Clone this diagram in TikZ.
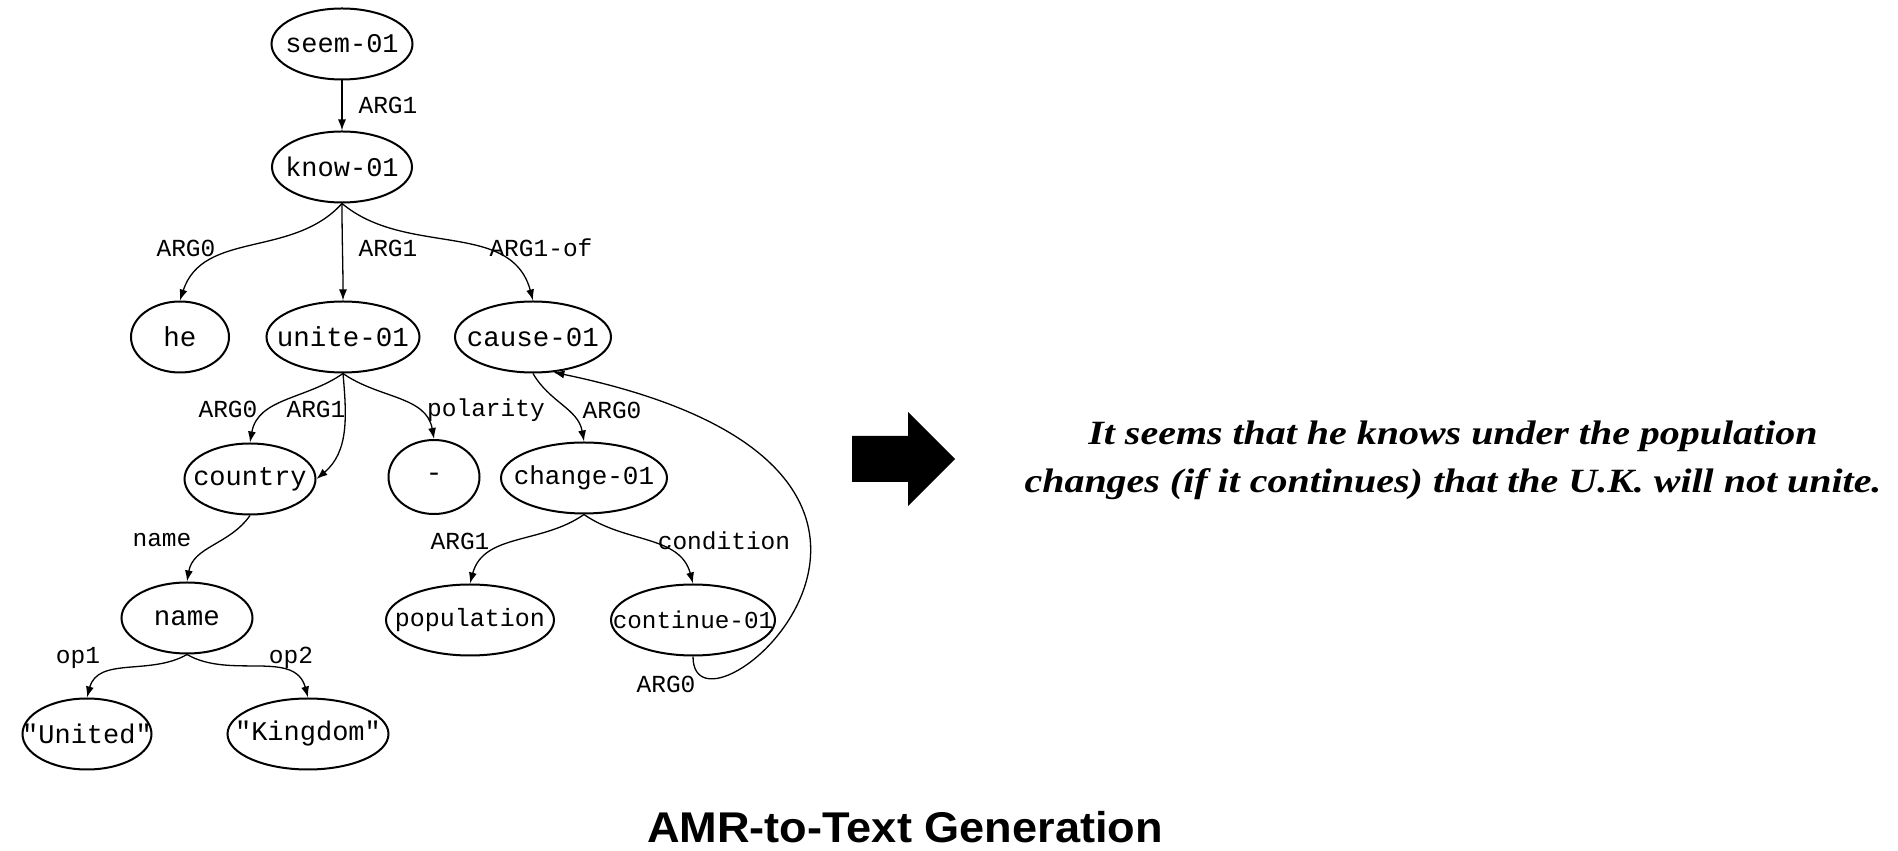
\documentclass[tikz,border=0pt]{standalone}
\usepackage{fontspec}
\setmainfont{Liberation Serif}
\setmonofont{Liberation Mono}
\newfontfamily\titlefont{Liberation Sans}
\usetikzlibrary{arrows.meta,shapes}
\tikzstyle{amrnode}=[ellipse,draw,line width=2pt,inner sep=0pt,minimum height=71pt,font=\ttfamily]
\tikzstyle{edge} = [draw,line width=1.3pt,-{Latex[length=11pt,width=8pt]}]
\tikzstyle{weight} = [inner sep=0pt,font=\ttfamily\fontsize{24.5}{28}\selectfont]
\tikzstyle{sentence} = [inner sep=0pt,font=\bfseries\itshape\fontsize{34}{48}\selectfont]

\begin{document}
\begin{tikzpicture}[x=1pt,y=1pt]
    \useasboundingbox (0,0) rectangle (1898,851);
    % First we draw the concepts of the AMR graph
    \foreach \pos/ \name/ \wd/ \fs/ \txt in {{(342,807)/seem/141/27/seem-01},{(342,684)/know/140/27/know-01},
        {(180,514)/he/98/27.5/he},{(343,514)/unite/153/27.5/unite-01},{(533,514)/cause/156/27.5/cause-01},
        {(250,372)/country/131/27/country},{(584,373)/change/166/26/change-01},
        {(187,233)/name/131/27.5/name},{(470,231)/population/168/25/population},{(693,231)/continue/164/24.3/continue-01},
        {(87,117)/united/129/27/"United"},{(308,117)/kingdom/161/27/"Kingdom"}}
        \node[amrnode,minimum width=\wd pt] (\name) at \pos {\fontsize{\fs}{30}\selectfont\makebox[0pt]{\txt}};
    \node[amrnode,minimum width=91pt,minimum height=74pt] (minus) at (434,374) {\fontsize{27.5}{30}\selectfont\makebox[0pt]{-}};

    % Connect concepts with relations
    \foreach \source/ \dest/ \o/ \i in {seem.south/know.north/-90/90, know.south/he.north/228/72,
        know.south/unite.north/-90/90, know.south/cause.north/-40/105,
        unite.south/country.north/215/80, unite.south/country.east/-85/40,
        unite.south/minus.north/-35/100, cause.south/change.north/-60/100,
        change.south/population.north/215/75, change.south/continue.north/-35/105,
        country.south/name.north/235/80,
        name.south/united.north/210/75, name.south/kingdom.north/-30/105}
        \path[edge] (\source) to[out=\o,in=\i] (\dest);
    \path[edge] (continue.south) .. controls (693,90) and (1030,380) .. (cause.-60);

    % Relation labels
    \foreach \pos/ \txt [count=\k] in {{(388,746)/ARG1},{(186,603)/ARG0},{(388,603)/ARG1},{(541,603)/ARG1-of},
        {(228,442)/ARG0},{(316,442)/ARG1},{(486,441)/polarity},{(612,441)/ARG0},
        {(162,311)/name},{(460,310)/ARG1},{(724,310)/condition},
        {(78,193)/op1},{(291,193)/op2},{(666,167)/ARG0}}
        \node[weight] (lbl\k) at \pos {\txt};

    % Generation arrow and output sentence
    \fill (852,369) -- (852,415) -- (908,415) -- (908,439) -- (955,392) -- (908,345) -- (908,369) -- cycle;
    \node[sentence] (output) at (1453,392) {\scalebox{1.175}[1]{\begin{tabular}{@{}c@{}}It seems that he knows under the population\\changes (if it continues) that the U.K. will not unite.\end{tabular}}};

    \node[anchor=base,font=\titlefont\bfseries\fontsize{43}{48}\selectfont] (title) at (905,8) {\scalebox{1.05}[1]{AMR-to-Text Generation}};
\end{tikzpicture}
\end{document}
